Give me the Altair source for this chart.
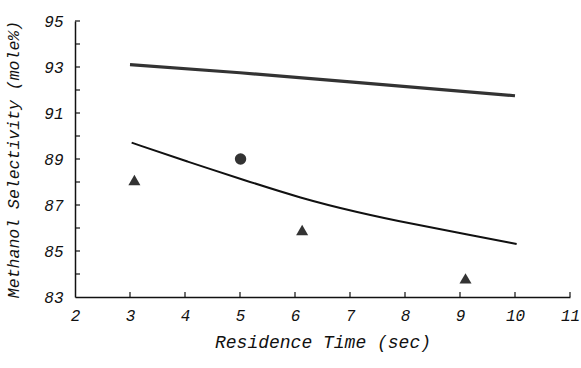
import altair as alt
import pandas as pd

# Upper model curve (thick line)
upper_x = [3.0, 5.0, 7.0, 10.0]
upper_y = [93.1, 92.75, 92.35, 91.75]

# Lower model curve
lower_x = [3.03, 4.05, 5.07, 6.10, 7.13, 8.16, 9.19, 10.03]
lower_y = [89.71, 88.88, 88.09, 87.30, 86.68, 86.16, 85.70, 85.30]

# Experimental points
tri_x = [3.08, 6.13, 9.1]
tri_y = [88.09, 85.91, 83.81]
circ_x = [5.01]
circ_y = [89.0]

x_ticks = [3, 4, 5, 6, 7, 8, 9, 10, 11]
y_ticks = [84, 85, 86, 87, 88, 89, 90, 91, 92, 93, 94, 95]
y_labels = [83, 85, 87, 89, 91, 93, 95]

W, H = 495, 276
FONT = "Liberation Mono"

xs = alt.Scale(domain=[2, 11], nice=False, zero=False)
ys = alt.Scale(domain=[83, 95], nice=False, zero=False)

xaxis = alt.Axis(values=list(range(2, 12)), format="d", ticks=False, grid=False, domainColor="#111",
                 domainWidth=1.5, labelFont=FONT, labelFontStyle="italic", labelFontSize=16,
                 labelColor="#111", labelPadding=10, title="Residence Time (sec)",
                 titleFont=FONT, titleFontStyle="italic", titleFontWeight="normal",
                 titleFontSize=18, titleColor="#111", titlePadding=10, labelFlush=False)
yaxis = alt.Axis(values=y_labels, format="d", ticks=False, grid=False, domainColor="#111",
                 domainWidth=1.5, labelFont=FONT, labelFontStyle="italic", labelFontSize=16,
                 labelColor="#111", labelPadding=12, title="Methanol Selectivity (mole%)",
                 titleFont=FONT, titleFontStyle="italic", titleFontWeight="normal",
                 titleFontSize=16.5, titleColor="#111", titlePadding=22, labelFlush=False)

up = pd.DataFrame({"x": upper_x, "y": upper_y})
lo = pd.DataFrame({"x": lower_x, "y": lower_y})
tri = pd.DataFrame({"x": tri_x, "y": tri_y})
circ = pd.DataFrame({"x": circ_x, "y": circ_y})
xt = pd.DataFrame({"x": x_ticks})
yt = pd.DataFrame({"y": y_ticks})

base_axes = alt.Chart(up).mark_line(color="#333", strokeWidth=3.2).encode(
    x=alt.X("x:Q", scale=xs, axis=xaxis),
    y=alt.Y("y:Q", scale=ys, axis=yaxis),
)
lower = alt.Chart(lo).mark_line(color="#111", strokeWidth=2, interpolate="basis").encode(
    x=alt.X("x:Q", scale=xs), y=alt.Y("y:Q", scale=ys))
tris = alt.Chart(tri).mark_point(shape="triangle-up", filled=True, color="#333", size=145, opacity=1).encode(
    x=alt.X("x:Q", scale=xs), y=alt.Y("y:Q", scale=ys))
circs = alt.Chart(circ).mark_point(shape="circle", filled=True, color="#333", size=130, opacity=1).encode(
    x=alt.X("x:Q", scale=xs), y=alt.Y("y:Q", scale=ys))
xtick = alt.Chart(xt).mark_rule(color="#111", strokeWidth=1.2).encode(
    x=alt.X("x:Q", scale=xs), y=alt.value(H), y2=alt.value(H - 5))
ytick = alt.Chart(yt).mark_rule(color="#111", strokeWidth=1.2).encode(
    y=alt.Y("y:Q", scale=ys), x=alt.value(0), x2=alt.value(5))

chart = alt.layer(base_axes, lower, tris, circs, xtick, ytick).properties(
    width=W, height=H,
    autosize=alt.AutoSizeParams(type="none"),
    padding={"left": 75, "top": 21, "right": 11, "bottom": 71},
    background="white",
).configure_view(stroke=None)

chart.save("out.html", embed_options={"renderer": "svg", "actions": False})
